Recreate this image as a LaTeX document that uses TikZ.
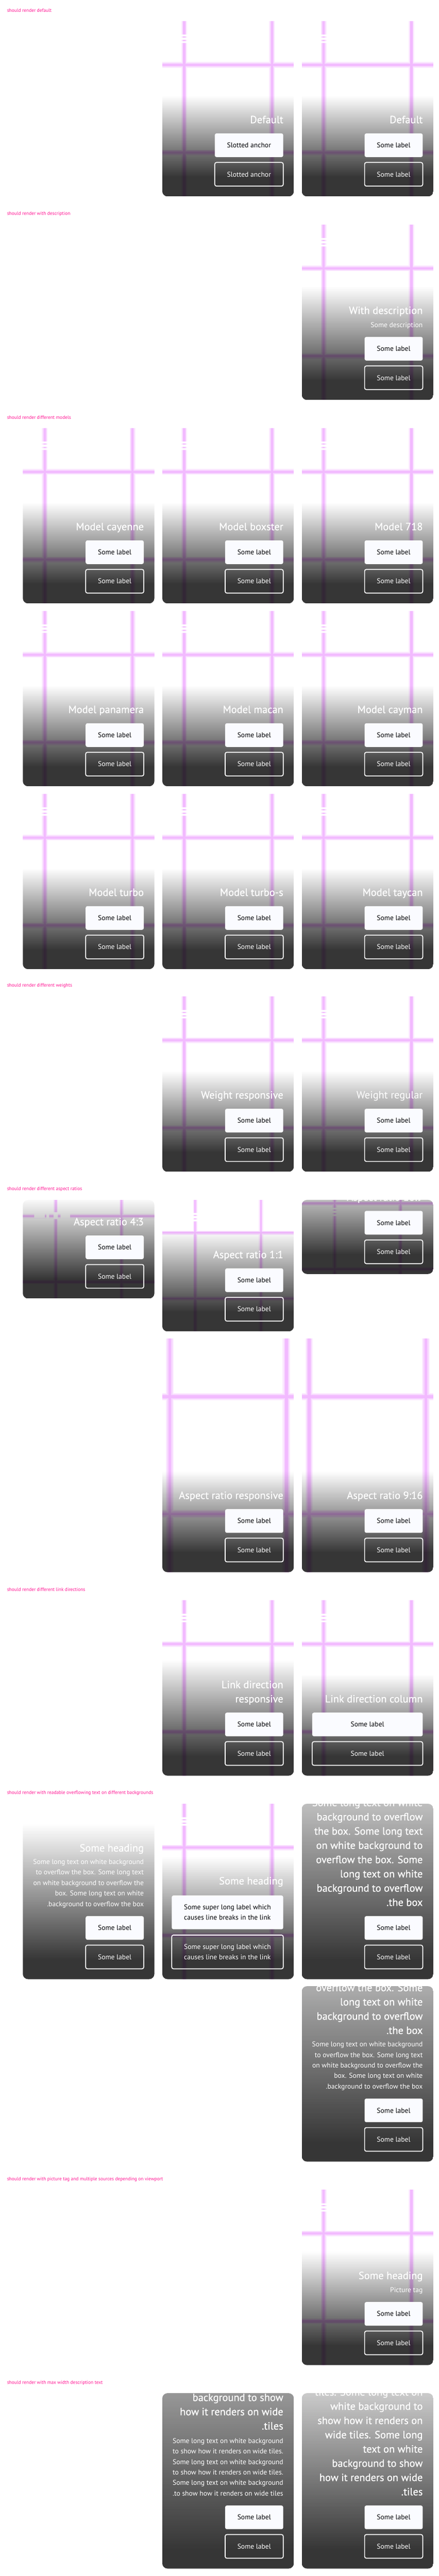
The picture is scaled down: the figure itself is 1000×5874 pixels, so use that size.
\documentclass[tikz,border=0pt]{standalone}
\usepackage{fontspec}
\setmainfont{PT Sans}
\newfontfamily\tilefont{PT Sans}
\newfontfamily\tileheadfont{PT Sans}[FakeBold=0.5]
\usetikzlibrary{positioning,fadings}

\definecolor{seccolor}{RGB}{255,20,147}
\definecolor{gridsoft}{RGB}{252,236,255}
\definecolor{gridmid}{RGB}{247,214,255}
\definecolor{gridpink}{RGB}{242,186,255}
\definecolor{btnfill}{RGB}{250,251,255}
\definecolor{btnink}{RGB}{1,2,5}

\tikzfading[name=tilefade, top color=transparent!100, middle color=transparent!55, bottom color=transparent!0]

\tikzset{
  seclabel/.style={anchor=west, text=seccolor, inner sep=0pt, font=\tilefont\fontsize{11}{13}\selectfont},
  tilehead/.style={text=white, inner sep=0pt, font=\tileheadfont\fontsize{24}{32}\selectfont},
  tileheadreg/.style={text=white, inner sep=0pt, font=\tilefont\fontsize{24}{32}\selectfont},
  tiledesc/.style={text=white, inner sep=0pt, font=\tilefont\fontsize{16}{24}\selectfont},
  btnprimary/.style={anchor=north east, fill=btnfill, text=btnink, rounded corners=4pt,
    minimum height=54pt, inner xsep=28pt, inner ysep=0pt, font=\tilefont\fontsize{16}{24}\selectfont},
  btnsecondary/.style={btnprimary, fill=none, draw=white, line width=2pt, text=white},
  imgmark/.style={fill=white}
}

% tile frame: shift + rounded clip (closed by \end{scope})
\newcommand{\tilestart}[3]{\begin{scope}[shift={(#1,#2)}]\clip[rounded corners=12pt] (0,0) rectangle (300,#3);}
% dark gradient from #2 down to the bottom #1
\newcommand{\tileshade}[2]{%
  \fill[black, fill opacity=.79, path fading=tilefade, fit fading=true] (0,#2) rectangle (300,#1-45);
  \fill[black, fill opacity=.79] (0,#1-45) rectangle (300,#1);}
% pink test lines of the image (soft edge, then core)
\newcommand{\imggrid}[4]{%
  \foreach \gw/\gc in {13/gridsoft, 9/gridmid, 5/gridpink} {
    \foreach \gx in {#1} \draw[draw=\gc, line width=#4*\gw] (\gx,0) -- (\gx,#3);
    \foreach \gy in {#2} \draw[draw=\gc, line width=#4*\gw] (0,\gy) -- (300,\gy);
  }}
\newcommand{\imgmarks}[2]{\fill[imgmark] (#1-7,#2-9) rectangle (#1+7,#2-5) (#1-7,#2-2) rectangle (#1+7,#2+3) (#1-7,#2+6) rectangle (#1+7,#2+10);}
\newcommand{\headlines}[4]{%
  \foreach \tline [count=\i] in {#4}
    \node[tilehead, anchor=base east] (#1-h\i) at (276,{#2-32.5*(#3-\i)}) {\tline};}
\newcommand{\desclines}[3]{%
  \foreach \tline [count=\i] in {#3}
    \node[tiledesc, anchor=base east] (#1-d\i) at (276,{#2+24*(\i-1)}) {\tline};}
% standard 300x400 tile with image
\newcommand{\stdtile}[6]{%
  \tilestart{#2}{#3}{400}
    \imggrid{50,250}{100,300}{400}{1}
    \imgmarks{50}{40}
    \tileshade{400}{170}
    \node[#4, anchor=base east] (#1-h) at (276,233) {#5};
    \node[btnprimary] (#1-a) at (276,256) {#6};
    \node[btnsecondary, below=11pt of #1-a] (#1-b) {#6};
  \end{scope}}

\begin{document}
\begin{tikzpicture}[x=1pt, y=-1pt]
\fill[white] (0,0) rectangle (1000,5874);
\useasboundingbox (0,0) rectangle (1000,5874);

% default
\node[seclabel] (sec-default) at (16,24) {should render default};
\stdtile{def-slot}{370}{48}{tilehead}{Default}{Slotted anchor}
\stdtile{def-label}{688}{48}{tilehead}{Default}{Some label}

% description
\node[seclabel] (sec-desc) at (16,488) {should render with description};
\tilestart{688}{512}{400}
  \imggrid{50,250}{100,300}{400}{1}
  \imgmarks{50}{40}
  \tileshade{400}{141}
  \node[tilehead, anchor=base east] (desc-h) at (276,204) {With description};
  \node[tiledesc, anchor=base east] (desc-d) at (276,234) {Some description};
  \node[btnprimary] (desc-a) at (276,256) {Some label};
  \node[btnsecondary, below=11pt of desc-a] (desc-b) {Some label};
\end{scope}

% models
\node[seclabel] (sec-model) at (16,952) {should render different models};
\foreach \mname/\mx/\my in {cayenne/52/976, boxster/370/976, 718/688/976, panamera/52/1393, macan/370/1393,
  cayman/688/1393, turbo/52/1810, turbo-s/370/1810, taycan/688/1810} {
  \stdtile{mod-\mname}{\mx}{\my}{tilehead}{Model \mname}{Some label}
}

% weights
\node[seclabel] (sec-weight) at (16,2248) {should render different weights};
\stdtile{wt-resp}{370}{2272}{tilehead}{Weight responsive}{Some label}
\stdtile{wt-reg}{688}{2272}{tileheadreg}{Weight regular}{Some label}

% aspect ratios
\node[seclabel] (sec-aspect) at (16,2712) {should render different aspect ratios};
\tilestart{52}{2736}{225}
  \imggrid{75,225}{37,187}{225}{.75}
  \fill[imgmark] (26,31) rectangle (50,41) (54,30) rectangle (60,42) (70,28) rectangle (80,44) (86,30) rectangle (108,42);
  \tileshade{225}{-5}
  \node[tilehead, anchor=base east] (ar43-h) at (276,58) {Aspect ratio 4:3};
  \node[btnprimary] (ar43-a) at (276,81) {Some label};
  \node[btnsecondary, below=11pt of ar43-a] (ar43-b) {Some label};
\end{scope}
\tilestart{370}{2736}{300}
  \imggrid{75,225}{75,225}{300}{.75}
  \imgmarks{75}{39}
  \tileshade{300}{70}
  \node[tilehead, anchor=base east] (ar11-h) at (276,133) {Aspect ratio 1:1};
  \node[btnprimary] (ar11-a) at (276,156) {Some label};
  \node[btnsecondary, below=11pt of ar11-a] (ar11-b) {Some label};
\end{scope}
\tilestart{688}{2736}{169}
  \imggrid{75,225}{8,158}{169}{.75}
  \imgmarks{75}{27}
  \tileshade{169}{-60}
  \node[tilehead, anchor=base east] (ar169-h) at (276,2) {Aspect ratio 16:9};
  \node[btnprimary] (ar169-a) at (276,25) {Some label};
  \node[btnsecondary, below=11pt of ar169-a] (ar169-b) {Some label};
\end{scope}
\tilestart{370}{3052}{533}
  \imggrid{17,283}{133,400}{533}{1.33}
  \tileshade{533}{303}
  \node[tilehead, anchor=base east] (arresp-h) at (276,366) {Aspect ratio responsive};
  \node[btnprimary] (arresp-a) at (276,389) {Some label};
  \node[btnsecondary, below=11pt of arresp-a] (arresp-b) {Some label};
\end{scope}
\tilestart{688}{3052}{533}
  \imggrid{17,283}{133,400}{533}{1.33}
  \tileshade{533}{303}
  \node[tilehead, anchor=base east] (ar916-h) at (276,366) {Aspect ratio 9:16};
  \node[btnprimary] (ar916-a) at (276,389) {Some label};
  \node[btnsecondary, below=11pt of ar916-a] (ar916-b) {Some label};
\end{scope}

% link directions
\node[seclabel] (sec-link) at (16,3625) {should render different link directions};
\tilestart{370}{3649}{400}
  \imggrid{50,250}{100,300}{400}{1}
  \imgmarks{50}{40}
  \tileshade{400}{136}
  \headlines{lnk-resp}{233}{2}{Link direction, responsive}
  \node[btnprimary] (lnk-resp-a) at (276,256) {Some label};
  \node[btnsecondary, below=11pt of lnk-resp-a] (lnk-resp-b) {Some label};
\end{scope}
\tilestart{688}{3649}{400}
  \imggrid{50,250}{100,300}{400}{1}
  \imgmarks{50}{40}
  \tileshade{400}{170}
  \node[tilehead, anchor=base east] (lnk-col-h) at (276,233) {Link direction column};
  \node[btnprimary, minimum width=252pt] (lnk-col-a) at (276,256) {Some label};
  \node[btnsecondary, minimum width=252pt, below=11pt of lnk-col-a] (lnk-col-b) {Some label};
\end{scope}

% readable overflowing text
\node[seclabel] (sec-read) at (16,4089) {should render with readable overflowing text on different backgrounds};
\tilestart{52}{4113}{400}
  \tileshade{400}{46}
  \node[tilehead, anchor=base east] (rd-white-h) at (276,109) {Some heading};
  \desclines{rd-white}{138}{Some long text on white background, to overflow the box. Some long text,
    on white background to overflow the, box. Some long text on white, .background to overflow the box}
  \node[btnprimary] (rd-white-a) at (276,256) {Some label};
  \node[btnsecondary, below=11pt of rd-white-a] (rd-white-b) {Some label};
\end{scope}
\tilestart{370}{4113}{400}
  \imggrid{50,250}{100,300}{400}{1}
  \imgmarks{50}{40}
  \tileshade{400}{121}
  \node[tilehead, anchor=base east] (rd-long-h) at (276,184) {Some heading};
  \node[btnprimary, minimum width=251pt, minimum height=77pt, align=left] (rd-long-a) at (276,209)
    {Some super long label which\\causes line breaks in the link};
  \node[btnsecondary, minimum width=251pt, minimum height=77pt, align=left, below=12pt of rd-long-a] (rd-long-b)
    {Some super long label which\\causes line breaks in the link};
\end{scope}
\tilestart{688}{4113}{400}
  \tileshade{400}{-167}
  \headlines{rd-over}{233}{8}{Some long text on white, background to overflow, the box. Some long text,
    on white background to, overflow the box. Some, long text on white, background to overflow, .the box}
  \node[btnprimary] (rd-over-a) at (276,256) {Some label};
  \node[btnsecondary, below=11pt of rd-over-a] (rd-over-b) {Some label};
\end{scope}
\tilestart{688}{4529}{400}
  \tileshade{400}{-245}
  \headlines{rd-both}{109}{8}{Some long text on white, background to overflow, the box. Some long text,
    on white background to, overflow the box. Some, long text on white, background to overflow, .the box}
  \desclines{rd-both}{138}{Some long text on white background, to overflow the box. Some long text,
    on white background to overflow the, box. Some long text on white, .background to overflow the box}
  \node[btnprimary] (rd-both-a) at (276,256) {Some label};
  \node[btnsecondary, below=11pt of rd-both-a] (rd-both-b) {Some label};
\end{scope}

% picture tag
\node[seclabel] (sec-pic) at (16,4969) {should render with picture tag and multiple sources depending on viewport};
\tilestart{688}{4993}{400}
  \imggrid{50,250}{100,300}{400}{1}
  \imgmarks{50}{40}
  \tileshade{400}{141}
  \node[tilehead, anchor=base east] (pic-h) at (276,204) {Some heading};
  \node[tiledesc, anchor=base east] (pic-d) at (276,234) {Picture tag};
  \node[btnprimary] (pic-a) at (276,256) {Some label};
  \node[btnsecondary, below=11pt of pic-a] (pic-b) {Some label};
\end{scope}

% max width description
\node[seclabel] (sec-clamp) at (16,5433) {should render with max width description text};
\tilestart{370}{5457}{400}
  \tileshade{400}{-381}
  \headlines{clamp-desc}{83}{8}{tiles. Some long text on, white background to, show how it renders on,
    wide tiles. Some long, text on white, background to show, how it renders on wide, .tiles}
  \desclines{clamp-desc}{114}{Some long text on white background, to show how it renders on wide tiles.,
    Some long text on white background, to show how it renders on wide tiles.,
    Some long text on white background, .to show how it renders on wide tiles}
  \node[btnprimary] (clamp-desc-a) at (276,256) {Some label};
  \node[btnsecondary, below=11pt of clamp-desc-a] (clamp-desc-b) {Some label};
\end{scope}
\tilestart{688}{5457}{400}
  \tileshade{400}{-125}
  \headlines{clamp-head}{233}{8}{tiles. Some long text on, white background to, show how it renders on,
    wide tiles. Some long, text on white, background to show, how it renders on wide, .tiles}
  \node[btnprimary] (clamp-head-a) at (276,256) {Some label};
  \node[btnsecondary, below=11pt of clamp-head-a] (clamp-head-b) {Some label};
\end{scope}
\end{tikzpicture}
\end{document}
